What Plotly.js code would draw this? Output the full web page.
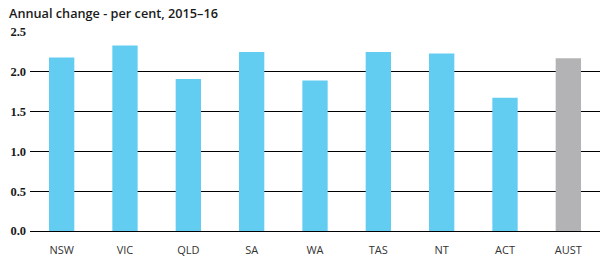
<!DOCTYPE html>
<html><head><meta charset="utf-8">
<script src="https://cdn.plot.ly/plotly-3.0.1.min.js"></script>
<style>html,body{margin:0;padding:0;background:#fff}#chart{width:604px;height:265px}</style>
</head><body><div id="chart"></div>
<script>
const categories = ["NSW","VIC","QLD","SA","WA","TAS","NT","ACT","AUST"];
const values = [2.18, 2.33, 1.91, 2.25, 1.89, 2.25, 2.23, 1.675, 2.17];
const yTickVals = [0, 0.5, 1.0, 1.5, 2.0, 2.5];
const yTickText = ["0.0","0.5","1.0","1.5","2.0","2.5"];
const barColors = categories.map(c => c === "AUST" ? "#B3B3B5" : "#63CDF1");

Plotly.newPlot("chart", [{
  type: "bar", x: categories, y: values,
  marker: {color: barColors, line: {width: 0}},
  hoverinfo: "none"
}], {
  width: 604, height: 265,
  margin: {l: 30, r: 4, t: 32, b: 34, pad: 0},
  paper_bgcolor: "#fff", plot_bgcolor: "#fff",
  bargap: 0.6,
  showlegend: false,
  title: {text: "Annual change - per cent, 2015–16", x: 0.015, xanchor: "left", y: 0.95, yanchor: "middle",
    font: {family: "Open Sans", size: 12.7, color: "#1a1a1a", weight: 600}},
  xaxis: {type: "category", showgrid: false, showline: false, zeroline: false, ticks: "outside", ticklen: 9,
    tickcolor: "rgba(0,0,0,0)",
    tickfont: {family: "Open Sans", size: 11, color: "#333"}, fixedrange: true},
  yaxis: {range: [0, 2.5], tickvals: yTickVals, ticktext: yTickText, showgrid: true, gridcolor: "#000", gridwidth: 1,
    zeroline: true, zerolinecolor: "#000", zerolinewidth: 1, showline: false, ticks: "", ticklabelstandoff: 3,
    tickfont: {family: "Liberation Serif", size: 12.5, color: "#1a1a1a", weight: "bold"}, fixedrange: true}
}, {displayModeBar: false, staticPlot: true});
</script></body></html>
